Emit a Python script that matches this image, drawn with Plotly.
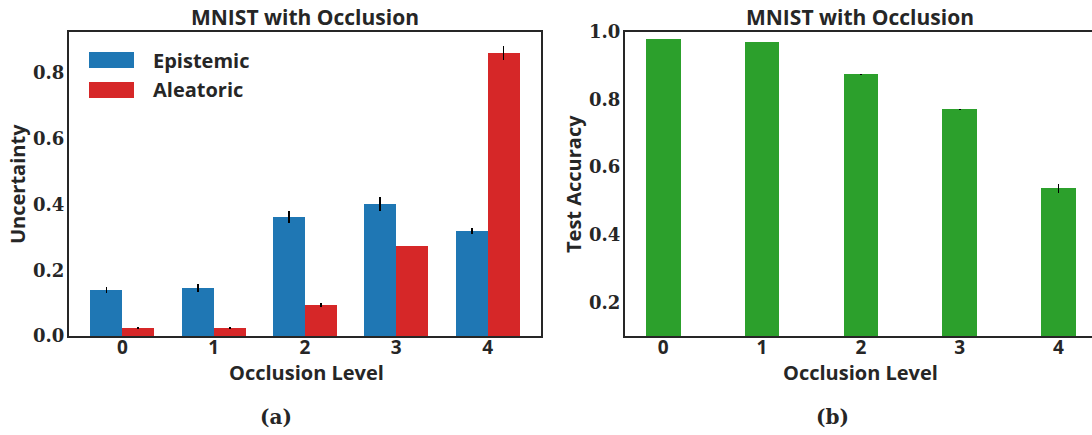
import plotly.graph_objects as go

# Occlusion levels and measured values
levels = [0, 1, 2, 3, 4]
level_labels = ["0", "1", "2", "3", "4"]

epistemic = [0.140, 0.146, 0.362, 0.401, 0.319]
epistemic_err = [0.010, 0.013, 0.019, 0.020, 0.010]
aleatoric = [0.024, 0.024, 0.094, 0.274, 0.860]
aleatoric_err = [0.003, 0.002, 0.006, 0.001, 0.022]

accuracy = [0.979, 0.970, 0.875, 0.771, 0.537]
accuracy_err = [0.001, 0.001, 0.001, 0.001, 0.013]

unc_ticks = [0.0, 0.2, 0.4, 0.6, 0.8]
acc_ticks = [0.2, 0.4, 0.6, 0.8, 1.0]

W, H = 1092, 435
BLUE, RED, GREEN = "#1f77b4", "#d62728", "#2ca02c"
INK = "#262626"
SANS = "'Open Sans', Lato, sans-serif"
SERIF = "'DejaVu Serif', 'Liberation Serif', serif"
BAR_W = 0.35


def px(x):
    return x / W


def py(y):
    return 1 - y / H


fig = go.Figure()

err_style = dict(type="data", color="black", thickness=1.8, width=0, visible=True)

fig.add_trace(go.Bar(
    x=levels, y=epistemic, name="Epistemic", marker_color=BLUE,
    width=BAR_W, offset=-BAR_W, marker_line_width=0,
    error_y=dict(array=epistemic_err, **err_style),
    xaxis="x", yaxis="y", showlegend=False,
))
fig.add_trace(go.Bar(
    x=levels, y=aleatoric, name="Aleatoric", marker_color=RED,
    width=BAR_W, offset=0, marker_line_width=0,
    error_y=dict(array=aleatoric_err, **err_style),
    xaxis="x", yaxis="y", showlegend=False,
))
fig.add_trace(go.Bar(
    x=levels, y=accuracy, name="Test Accuracy", marker_color=GREEN,
    width=BAR_W, marker_line_width=0,
    error_y=dict(array=accuracy_err, **err_style),
    xaxis="x2", yaxis="y2", showlegend=False,
))

common = dict(showline=True, linecolor=INK, linewidth=2, showgrid=False,
              zeroline=False, ticks="", automargin=False)
x_ticks = dict(tickvals=levels, ticktext=level_labels,
               tickfont=dict(family=SANS, size=19, color=INK, weight="bold"),
               ticklabelstandoff=-7)
y_font = dict(family=SERIF, size=18, color=INK, weight="bold")

fig.update_layout(
    width=W, height=H,
    margin=dict(l=0, r=0, t=0, b=0, autoexpand=False),
    paper_bgcolor="white", plot_bgcolor="white",
    barmode="overlay", bargap=0,
    xaxis=dict(domain=[px(69), px(541)], range=[-0.585, 4.585],
               mirror=True, anchor="y", **common, **x_ticks),
    yaxis=dict(domain=[py(336), py(32)], range=[0, 0.924],
               tickvals=unc_ticks, ticktext=[f"{t:.1f}" for t in unc_ticks],
               tickfont=y_font, ticklabelstandoff=-1,
               mirror=True, anchor="x", **common),
    xaxis2=dict(domain=[px(625), 1.0], range=[-0.387, 4.339],
                mirror=True, anchor="y2", **common, **x_ticks),
    yaxis2=dict(domain=[py(336), py(32)], range=[0.1, 1.0],
                tickvals=acc_ticks, ticktext=[f"{t:.1f}" for t in acc_ticks],
                tickfont=y_font, ticklabelstandoff=-1,
                mirror=False, anchor="x2", **common),
)

text_font = dict(family=SANS, size=20, color=INK, weight="bold")
title_font = dict(family=SANS, size=21, color=INK, weight="bold")


def label(x, y, text, font=text_font, angle=0, xanchor="center"):
    fig.add_annotation(x=px(x), y=py(y), xref="paper", yref="paper",
                       text=text, showarrow=False, font=font, textangle=angle,
                       xanchor=xanchor, yanchor="middle")


# titles
label(305, 17, "MNIST with Occlusion", font=title_font)
label(860, 17, "MNIST with Occlusion", font=title_font)
# axis titles
label(306, 372, "Occlusion Level")
label(860, 372, "Occlusion Level")
label(17, 184, "Uncertainty", angle=-90)
label(573, 184, "Test Accuracy", angle=-90)
# panel captions
cap_font = dict(family=SERIF, size=20, color=INK, weight="bold")
label(276, 417, "(a)", font=cap_font)
label(832, 417, "(b)", font=cap_font)

# legend
for (y0, y1), name, col in [((52, 68), "Epistemic", BLUE), ((82, 98), "Aleatoric", RED)]:
    fig.add_shape(type="rect", xref="paper", yref="paper",
                  x0=px(89), x1=px(134), y0=py(y1), y1=py(y0),
                  fillcolor=col, line_width=0)
    label(151, (y0 + y1) / 2, name, xanchor="left")

fig.write_html("out.html")
